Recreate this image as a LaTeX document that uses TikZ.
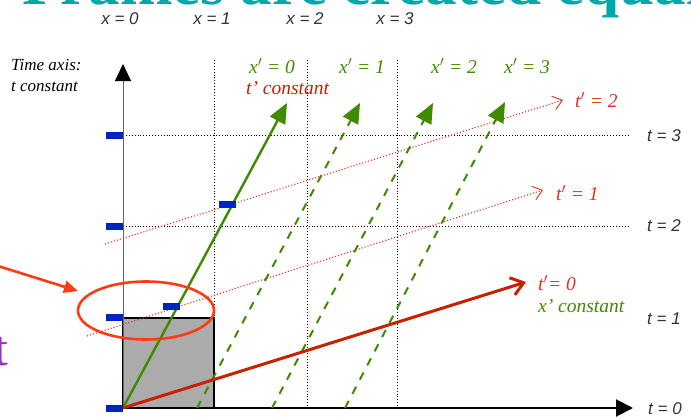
\documentclass[tikz,border=0pt]{standalone}
\usepackage{fontspec}
\setmainfont{Liberation Serif}
\newfontfamily\lsans{Liberation Sans}
\usetikzlibrary{arrows.meta}
\definecolor{grn}{HTML}{3F8A00}
\definecolor{thickred}{HTML}{C82000}
\definecolor{dotred}{HTML}{E0301E}
\definecolor{tickblue}{HTML}{0024C0}
\definecolor{ellred}{HTML}{FF3A14}
\definecolor{sqgrey}{HTML}{ABABAB}
\definecolor{purp}{HTML}{9930CC}
\definecolor{titleteal}{HTML}{00A8A8}
\tikzset{
  gridline/.style={black, line width=0.9pt, dotted},
  blutick/.style={fill=tickblue, draw=none},
  grnsolid/.style={grn, line width=2.4pt, -{Triangle[length=20pt,width=17pt]}},
  grndash/.style={grn, line width=2pt, dash pattern=on 8pt off 8pt, -{Triangle[length=20pt,width=17pt]}},
  redthick/.style={thickred, line width=3pt, -{Straight Barb[length=12pt,width=18pt,line width=3pt]}},
  reddot/.style={dotred, line width=1.1pt, dotted, -{Straight Barb[length=9pt,width=14pt,line width=0.9pt]}},
  lab/.style={inner sep=0pt, font=\fontsize{19.5}{22}\selectfont\itshape},
  axlab/.style={inner sep=0pt, text=black!80, font=\fontsize{17}{20}\selectfont\lsans\itshape},
  smlab/.style={inner sep=0pt, anchor=west, font=\fontsize{17}{20}\selectfont\itshape}
}
\begin{document}
\begin{tikzpicture}[x=1pt,y=-1pt]
\useasboundingbox (0,0) rectangle (691,418);
\clip (0,0) rectangle (691,418);
% title sliver
\node[anchor=base west, inner sep=0pt, text=titleteal, font=\fontsize{63}{70}\selectfont\bfseries] (title) at (22,4) {Frames are created equal};
% top x labels
\node[axlab] (x0) at (120,19) {x = 0};
\node[axlab] (x1) at (212,19) {x = 1};
\node[axlab] (x2) at (305,19) {x = 2};
\node[axlab] (x3) at (395,19) {x = 3};
% time axis label
\node[smlab] (ta1) at (11,65) {Time axis:};
\node[smlab] (ta2) at (11,87) {t constant};
% grey square
\draw[fill=sqgrey, draw=black, line width=1.6pt] (123,318) rectangle (214,408);
% grid coordinates
\coordinate (O) at (123,408);
\coordinate (h3a) at (123,135); \coordinate (h3b) at (630,135);
\coordinate (h2a) at (123,226); \coordinate (h2b) at (630,226);
\coordinate (v1a) at (214,60); \coordinate (v1b) at (214,318);
\coordinate (v2a) at (307,60); \coordinate (v2b) at (307,408);
\coordinate (v3a) at (397,60); \coordinate (v3b) at (397,408);
\draw[gridline] (h3a) -- (h3b);
\draw[gridline] (h2a) -- (h2b);
\draw[gridline] (v1a) -- (v1b);
\draw[gridline] (v2a) -- (v2b);
\draw[gridline] (v3a) -- (v3b);
% axes
\coordinate (Ttop) at (123,64);
\coordinate (Xend) at (633,408);
\draw[black!60, line width=1pt, -{Triangle[length=17pt,width=16pt,color=black]}] (O) -- (Ttop);
\draw[black, line width=2pt, -{Triangle[length=17pt,width=17pt]}] (O) -- (Xend);
% right labels
\node[axlab, anchor=west] (t3) at (647,136) {t = 3};
\node[axlab, anchor=west] (t2) at (647,226) {t = 2};
\node[axlab, anchor=west] (t1) at (647,319) {t = 1};
\node[axlab, anchor=west] (t0) at (648,409) {t = 0};
% red dotted t' lines
\coordinate (p1a) at (87,336); \coordinate (p1b) at (543,190);
\coordinate (p2a) at (105,244); \coordinate (p2b) at (563,100);
\draw[reddot] (p1a) -- (p1b);
\draw[reddot] (p2a) -- (p2b);
% green lines
\coordinate (g1a) at (197,408); \coordinate (g1b) at (360,103);
\coordinate (g2a) at (272,408); \coordinate (g2b) at (433,103);
\coordinate (g3a) at (345,408); \coordinate (g3b) at (505,102);
\coordinate (g0b) at (287,103);
\draw[grndash] (g1a) -- (g1b);
\draw[grndash] (g2a) -- (g2b);
\draw[grndash] (g3a) -- (g3b);
\draw[grnsolid] (O) -- (g0b);
% red thick x' axis
\coordinate (xp) at (526,282);
\draw[redthick] (O) -- (xp);
% blue ticks
\fill[blutick] (106,132) rectangle (123,139);
\fill[blutick] (106,223) rectangle (123,230);
\fill[blutick] (106,314) rectangle (123,321);
\fill[blutick] (106,405) rectangle (123,412);
\fill[blutick] (163,303) rectangle (180,310);
\fill[blutick] (219,201) rectangle (236,208);
% green labels
\node[lab, text=grn] (xp0) at (272,66) {x$'$ = 0};
\node[lab, text=grn] (xp1) at (362,66) {x$'$ = 1};
\node[lab, text=grn] (xp2) at (454,66) {x$'$ = 2};
\node[lab, text=grn] (xp3) at (527,66) {x$'$ = 3};
\node[lab, text=thickred, anchor=west] (tc) at (246,88) {t’ constant};
\node[lab, text=dotred, anchor=west] (tp2) at (575,100) {t$'$ = 2};
\node[lab, text=dotred, anchor=west] (tp1) at (556,193) {t$'$ = 1};
\node[lab, text=dotred, anchor=west] (tp0) at (538,283) {t$'$= 0};
\node[lab, text=grn, anchor=west] (xc) at (538,306) {x’ constant};
% red ellipse and pointer arrow
\coordinate (ell) at (146,310.5);
\draw[ellred, line width=2.6pt] (ell) ellipse [x radius=68, y radius=29];
\coordinate (ptr) at (-2,266);
\coordinate (ptrtip) at (78,291);
\draw[ellred, line width=2.6pt, -{Triangle[length=14pt,width=12pt]}] (ptr) -- (ptrtip);
% purple t
\node[anchor=base east, inner sep=0pt, text=purp, font=\fontsize{50}{55}\selectfont] (pt) at (8.5,365) {t};
\end{tikzpicture}
\end{document}
